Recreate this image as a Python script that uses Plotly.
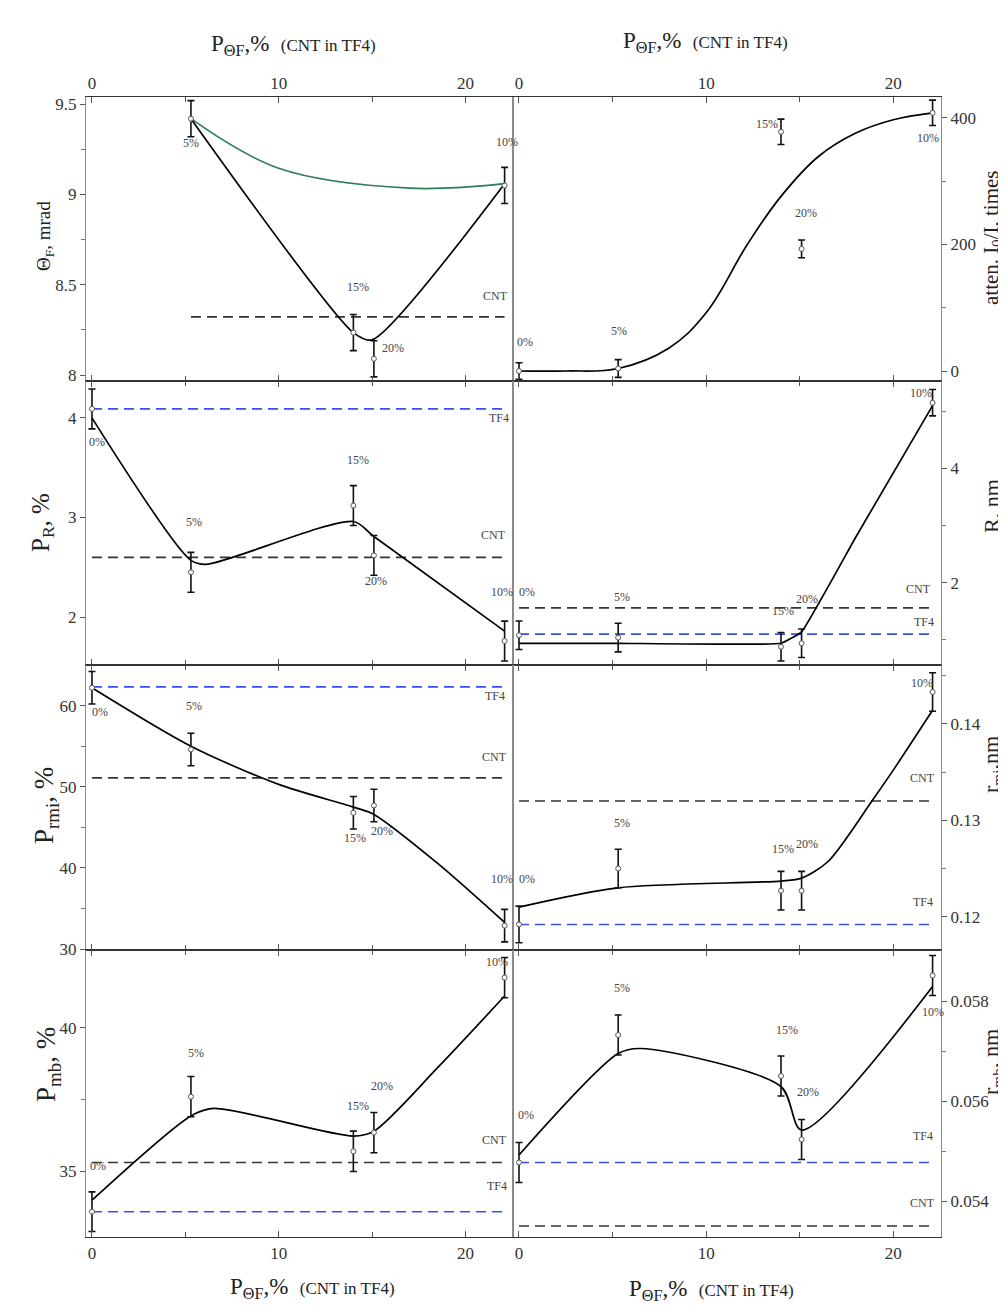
import plotly.graph_objects as go

W, H = 1006, 1306          # page (window) size
OFF = 8                    # default page margin around the plot div
FW, FH = W - OFF, H - OFF  # figure size
FONT = "Liberation Serif"
BLUE = "#3a4fe6"
GREEN = "#2e7d5b"

# ---------------- data ----------------
# x positions of samples (P_ThetaF, %) and their CNT-content labels
x_all = [0, 5.3, 14, 15.1, 22.1]
lab_all = ["0%", "5%", "15%", "20%", "10%"]

# Panel 1: Theta_F, mrad (no 0% sample)
th_x = [5.3, 14, 15.1, 22.1]
th_y = [9.42, 8.235, 8.09, 9.05]
th_e = [0.1, 0.1, 0.1, 0.1]
th_fit_x = [5.3, 14, 15, 22.1]
th_fit_y = [9.42, 8.235, 8.195, 9.06]
th_fit2_x = [5.3, 10, 17, 22.1]
th_fit2_y = [9.42, 9.145, 9.035, 9.06]
th_cnt = 8.322

# Panel 2: attenuation I0/I, times
at_y = [0, 4, 378, 193, 408]
at_e = [13, 14, 20, 14, 20]
at_fit_x = [0, 2.5, 5.3, 8, 10, 12.2, 14, 16, 18, 20, 22.1]
at_fit_y = [0, 0, 4, 36, 92, 200, 276, 339, 376, 397, 408]

# Panel 3: P_R, %
pr_y = [4.09, 2.45, 3.12, 2.62, 1.76]
pr_e = [0.2, 0.2, 0.2, 0.2, 0.2]
pr_fit_x = [0, 5.3, 6.1, 14, 15.1, 22.1]
pr_fit_y = [4.0, 2.57, 2.53, 2.96, 2.81, 1.86]
pr_tf4, pr_cnt = 4.09, 2.60

# Panel 4: R, nm
r_y = [1.08, 1.04, 0.88, 0.94, 5.15]
r_e = [0.25, 0.25, 0.25, 0.25, 0.23]
r_fit_x = [0, 5.3, 14, 15.1, 18, 22.1]
r_fit_y = [0.94, 0.94, 0.94, 1.14, 2.8, 5.1]
r_tf4, r_cnt = 1.10, 1.56

# Panel 5: P_rmi, %
pm_y = [62.2, 54.6, 46.8, 47.7, 32.9]
pm_e = [2.0, 2.0, 2.0, 2.0, 2.0]
pm_fit_x = [0, 5.3, 10, 14, 15.1, 18.5, 22.1]
pm_fit_y = [62.2, 55.0, 50.3, 47.5, 46.6, 40.6, 33.3]
pm_tf4, pm_cnt = 62.3, 51.1

# Panel 6: r_mi, nm
rm_y = [0.1192, 0.1250, 0.1227, 0.1227, 0.1433]
rm_e = [0.0019, 0.002, 0.002, 0.002, 0.002]
rm_fit_x = [0, 5.3, 14, 15.1, 16.5, 18.86, 20, 22.1]
rm_fit_y = [0.1210, 0.1230, 0.1237, 0.1240, 0.1257, 0.1320, 0.1352, 0.1414]
rm_tf4, rm_cnt = 0.1192, 0.1320

# Panel 7: P_mb, %
pb_y = [33.6, 37.6, 35.7, 36.35, 41.74]
pb_e = [0.69, 0.7, 0.7, 0.7, 0.7]
pb_fit_x = [0, 5.3, 6.5, 14, 15.1, 18.5, 22.1]
pb_fit_y = [34.0, 36.93, 37.19, 36.23, 36.4, 38.6, 41.1]
pb_tf4, pb_cnt = 33.6, 35.31

# Panel 8: r_mb, nm
rb_y = [0.05477, 0.05732, 0.05650, 0.05523, 0.05851]
rb_e = [0.0004, 0.0004, 0.0004, 0.0004, 0.0004]
rb_fit_x = [0, 5.3, 6.5, 14, 15.1, 22.1]
rb_fit_y = [0.05492, 0.05695, 0.05705, 0.05629, 0.05542, 0.05829]
rb_tf4, rb_cnt = 0.05477, 0.0535

# y-axis settings per panel: range, major ticks, minor ticks
y_ranges = [[7.967, 9.54], [-15.8, 433], [1.52, 4.37], [0.56, 5.53],
            [29.9, 65.0], [0.11655, 0.1461], [32.72, 42.7], [0.05328, 0.05902]]
y_major = [[8, 8.5, 9, 9.5], [0, 200, 400], [2, 3, 4], [2, 4],
           [30, 40, 50, 60], [0.12, 0.13, 0.14], [35, 40], [0.054, 0.056, 0.058]]
y_major_txt = [["8", "8.5", "9", "9.5"], ["0", "200", "400"], ["2", "3", "4"], ["2", "4"],
               ["30", "40", "50", "60"], ["0.12", "0.13", "0.14"], ["35", "40"],
               ["0.054", "0.056", "0.058"]]
y_minor = [[8.25, 8.75, 9.25], [100, 300], [], [1, 3, 5],
           [35, 45, 55], [0.125, 0.135, 0.145], [37.5], [0.055, 0.057]]
x_major = [0, 10, 20]
x_minor = [5, 15]

# ---------------- figure ----------------
fig = go.Figure()


def fx_(px):
    return (px - OFF) / FW


def fy_(py):
    return 1 - (py - OFF) / FH


x_dom = [[fx_(86), fx_(513)], [fx_(513), fx_(941)]]
rows_px = [(97, 381), (381, 665), (665, 950), (950, 1237)]
y_dom = [[fy_(b), fy_(t)] for t, b in rows_px]

DASH = "10px,6px"


def ax(k):
    return ("x" if k == 1 else f"x{k}"), ("y" if k == 1 else f"y{k}")


def ref_line(k, x0, x1, v, color):
    xa, ya = ax(k)
    fig.add_trace(go.Scatter(x=[x0, x1], y=[v, v], mode="lines", xaxis=xa, yaxis=ya,
                             line=dict(color=color, width=1.6, dash=DASH),
                             hoverinfo="skip", showlegend=False))


def fit_line(k, fx, fy, color="black", smooth=1.0):
    xa, ya = ax(k)
    fig.add_trace(go.Scatter(x=fx, y=fy, mode="lines", xaxis=xa, yaxis=ya,
                             line=dict(color=color, width=1.7, shape="spline", smoothing=smooth),
                             hoverinfo="skip", showlegend=False))


def data_pts(k, xs, ys, es):
    xa, ya = ax(k)
    fig.add_trace(go.Scatter(x=xs, y=ys, mode="markers", xaxis=xa, yaxis=ya,
                             error_y=dict(type="data", array=es, color="#111",
                                          thickness=1.6, width=3.5),
                             marker=dict(symbol="circle", size=5, color="white",
                                         line=dict(color="#555", width=1)),
                             showlegend=False))


# Panel 1
ref_line(1, th_x[0], th_x[-1], th_cnt, "#333")
fit_line(1, th_fit2_x, th_fit2_y, GREEN, 1.0)
fit_line(1, th_fit_x, th_fit_y, "black", 0.7)
data_pts(1, th_x, th_y, th_e)
# Panel 2
fit_line(2, at_fit_x, at_fit_y, "black", 1.1)
data_pts(2, x_all, at_y, at_e)
# Panel 3
ref_line(3, x_all[0], x_all[-1], pr_tf4, BLUE)
ref_line(3, x_all[0], x_all[-1], pr_cnt, "#333")
fit_line(3, pr_fit_x, pr_fit_y, "black", 0.8)
data_pts(3, x_all, pr_y, pr_e)
# Panel 4
ref_line(4, x_all[0], x_all[-1], r_tf4, BLUE)
ref_line(4, x_all[0], x_all[-1], r_cnt, "#333")
fit_line(4, r_fit_x, r_fit_y, "black", 0.3)
data_pts(4, x_all, r_y, r_e)
# Panel 5
ref_line(5, x_all[0], x_all[-1], pm_tf4, BLUE)
ref_line(5, x_all[0], x_all[-1], pm_cnt, "#333")
fit_line(5, pm_fit_x, pm_fit_y, "black", 0.8)
data_pts(5, x_all, pm_y, pm_e)
# Panel 6
ref_line(6, x_all[0], x_all[-1], rm_tf4, BLUE)
ref_line(6, x_all[0], x_all[-1], rm_cnt, "#333")
fit_line(6, rm_fit_x, rm_fit_y, "black", 0.8)
data_pts(6, x_all, rm_y, rm_e)
# Panel 7
ref_line(7, x_all[0], x_all[-1], pb_tf4, BLUE)
ref_line(7, x_all[0], x_all[-1], pb_cnt, "#333")
fit_line(7, pb_fit_x, pb_fit_y, "black", 0.8)
data_pts(7, x_all, pb_y, pb_e)
# Panel 8
ref_line(8, x_all[0], x_all[-1], rb_tf4, BLUE)
ref_line(8, x_all[0], x_all[-1], rb_cnt, "#333")
fit_line(8, rb_fit_x, rb_fit_y, "black", 0.8)
data_pts(8, x_all, rb_y, rb_e)

# ---------------- axes ----------------
tickfont = dict(family=FONT, size=17, color="#333")
layout_axes = {}
for k in range(1, 9):
    r = (k - 1) // 2
    c = (k - 1) % 2
    xname = "xaxis" if k == 1 else f"xaxis{k}"
    yname = "yaxis" if k == 1 else f"yaxis{k}"
    xa, ya = ax(k)
    xside = "top" if r == 0 else "bottom"
    layout_axes[xname] = dict(
        domain=x_dom[c], anchor=ya, range=[-0.32, 22.55], side=xside, automargin=False,
        tickmode="array", tickvals=x_major, ticktext=[str(v) for v in x_major],
        showticklabels=(r == 0 or r == 3), ticks="inside", ticklen=6, tickwidth=1.2,
        tickcolor="#555", minor=dict(tickmode="array", tickvals=x_minor, ticks="inside",
                                     ticklen=5, tickcolor="#555"),
        showline=True, linecolor="#333", linewidth=1.4, mirror="ticks",
        showgrid=False, zeroline=False, tickfont=tickfont,
    )
    layout_axes[yname] = dict(
        domain=y_dom[r], anchor=xa, range=y_ranges[k - 1], side=("left" if c == 0 else "right"),
        automargin=False,
        tickmode="array", tickvals=y_major[k - 1], ticktext=y_major_txt[k - 1],
        ticks="outside", ticklen=5, tickwidth=1.2, tickcolor="#555",
        minor=dict(tickmode="array", tickvals=y_minor[k - 1], ticks="outside",
                   ticklen=4, tickcolor="#777"),
        showline=True, linecolor="#8a8a8a", linewidth=1.2, mirror=True,
        showgrid=False, zeroline=False, tickfont=tickfont,
    )

# ---------------- annotations ----------------
ann = []


def pa(text, px, py, size=12, color="#444", angle=0, xanchor="center"):
    ann.append(dict(text=text, x=fx_(px), y=fy_(py), xref="paper", yref="paper",
                    showarrow=False, textangle=angle, xanchor=xanchor, yanchor="middle",
                    font=dict(family=FONT, size=size, color=color)))


# point / reference labels (page-pixel placements)
label_pos = [
    ("5%", 191, 143), ("10%", 507, 142), ("15%", 358, 287), ("20%", 393, 348), ("CNT", 495, 296),
    ("15%", 767, 124), ("20%", 806, 213), ("10%", 928, 138), ("5%", 619, 331), ("0%", 525, 342),
    ("TF4", 499, 418), ("0%", 97, 442), ("15%", 358, 460), ("5%", 194, 522), ("CNT", 493, 535),
    ("20%", 376, 581), ("10%", 502, 592),
    ("10%", 921, 393), ("0%", 527, 592), ("5%", 622, 597), ("CNT", 918, 589), ("20%", 807, 599),
    ("15%", 783, 611), ("TF4", 924, 622),
    ("TF4", 495, 696), ("0%", 100, 712), ("5%", 194, 706), ("CNT", 494, 757), ("15%", 355, 838),
    ("20%", 382, 831), ("10%", 502, 879),
    ("10%", 922, 683), ("CNT", 922, 778), ("5%", 622, 823), ("15%", 783, 849), ("20%", 807, 844),
    ("0%", 527, 879), ("TF4", 923, 902),
    ("10%", 497, 962), ("5%", 196, 1053), ("20%", 382, 1086), ("15%", 358, 1106),
    ("CNT", 494, 1140), ("0%", 98, 1166), ("TF4", 497, 1186),
    ("5%", 622, 988), ("10%", 933, 1012), ("15%", 787, 1030), ("20%", 808, 1092),
    ("0%", 526, 1115), ("TF4", 923, 1136), ("CNT", 922, 1203),
]
for t, px, py in label_pos:
    pa(t, px, py, size=12)

# x-axis titles
xt = "P<sub>ΘF</sub>,%  <span style='font-size:17px'>(CNT in TF4)</span>"
pa(xt, 293, 45, size=23, color="#222")
pa(xt, 705, 42, size=23, color="#222")
pa(xt, 312, 1288, size=23, color="#222")
pa(xt, 711, 1290, size=23, color="#222")

# y-axis titles
pa("Θ<sub>F</sub>, mrad", 45, 236, size=19, color="#222", angle=-90)
pa("P<sub>R</sub>, %", 42, 523, size=25, color="#222", angle=-90)
pa("P<sub>rmi</sub>, %", 46, 806, size=27, color="#222", angle=-90)
pa("P<sub>mb</sub>, %", 48, 1065, size=27, color="#222", angle=-90)
pa("atten. I<sub>0</sub>/I, times", 992, 238, size=21, color="#222", angle=-90)
pa("R, nm", 992, 506, size=22, color="#222", angle=-90)
pa("r<sub>mi</sub>,nm", 992, 765, size=22, color="#222", angle=-90)
pa("r<sub>mb</sub>, nm", 992, 1062, size=22, color="#222", angle=-90)

fig.update_layout(
    width=FW, height=FH, margin=dict(l=0, r=0, t=0, b=0),
    paper_bgcolor="white", plot_bgcolor="rgba(0,0,0,0)",
    showlegend=False, annotations=ann, font=dict(family=FONT),
    **layout_axes,
)

fig.write_html("out.html")
